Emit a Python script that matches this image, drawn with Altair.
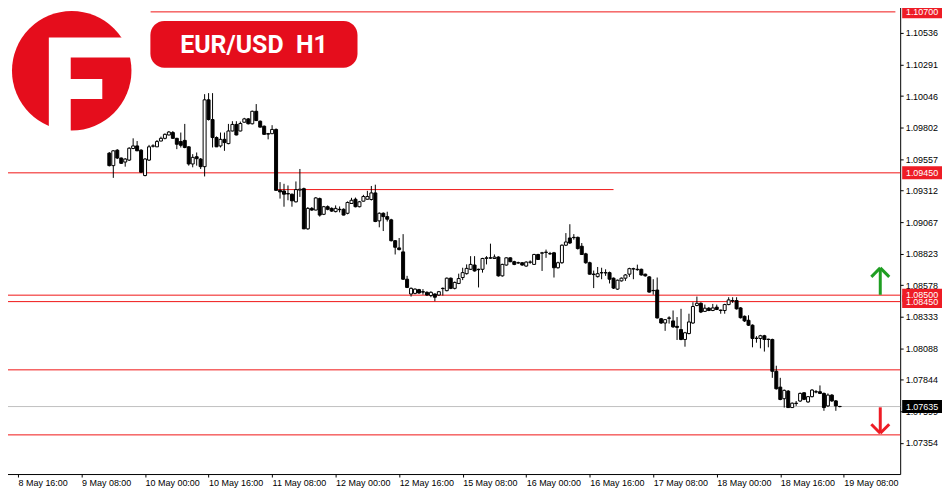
import altair as alt
import pandas as pd

# ---------------- data ----------------
x_labels = ["8 May 16:00", "9 May 08:00", "10 May 00:00", "10 May 16:00", "11 May 08:00",
            "12 May 00:00", "12 May 16:00", "15 May 08:00", "16 May 00:00", "16 May 16:00",
            "17 May 08:00", "18 May 00:00", "18 May 16:00", "19 May 08:00"]
x_label_hours = [0, 16, 32, 48, 64, 80, 96, 112, 128, 144, 160, 176, 192, 208]
y_ticks = [1.10536, 1.10291, 1.10046, 1.09802, 1.09557, 1.09312, 1.09067, 1.08823,
           1.08578, 1.08333, 1.08088, 1.07844, 1.07599, 1.07354]

first_hour = 23  # hours after 8 May 16:00

# prices in points (1e-5)
opens = [
    109603, 109506, 109626, 109565, 109534, 109549, 109639, 109659, 109626, 109429,
    109549, 109657, 109652, 109697, 109718, 109744, 109763, 109718, 109693, 109702,
    109652, 109519, 109575, 109557, 109498, 110017, 109864, 109724, 109659, 109710,
    109677, 109775, 109826, 109775, 109843, 109869, 109831, 109928, 109851, 109812,
    109754, 109754, 109787, 109314, 109309, 109289, 109284, 109225, 109316, 109327,
    109015, 109174, 109161, 109250, 109128, 109187, 109174, 109149, 109167, 109167,
    109136, 109212, 109245, 109187, 109230, 109245, 109243, 109294, 109077, 109136,
    109110, 109085, 108923, 108867, 108836, 108624, 108509, 108514, 108543, 108527,
    108522, 108497, 108509, 108501, 108551, 108535, 108632, 108553, 108591, 108637,
    108667, 108701, 108734, 108701, 108701, 108786, 108790, 108785, 108796, 108650,
    108734, 108790, 108760, 108752, 108752, 108726, 108756, 108739, 108816, 108826,
    108834, 108823, 108829, 108713, 108752, 108888, 108944, 108949, 108949, 108880,
    108821, 108752, 108664, 108644, 108675, 108673, 108675, 108632, 108547, 108611,
    108632, 108663, 108703, 108701, 108701, 108663, 108642, 108535, 108540, 108317,
    108284, 108323, 108300, 108258, 108233, 108156, 108202, 108284, 108420, 108437,
    108374, 108399, 108381, 108407, 108384, 108381, 108427, 108458, 108458, 108401,
    108336, 108305, 108267, 108166, 108164, 108185, 108158, 108156, 107909, 107786,
    107696, 107755, 107627, 107661, 107678, 107742, 107671, 107712, 107750, 107750,
    107737, 107640, 107724, 107679, 107636]
highs = [
    109611, 109626, 109634, 109569, 109565, 109649, 109718, 109697, 109634, 109565,
    109667, 109672, 109705, 109731, 109756, 109775, 109775, 109722, 109763, 109830,
    109657, 109595, 109608, 109565, 110061, 110069, 110069, 109733, 109763, 109763,
    109830, 109851, 109851, 109848, 109877, 109875, 109933, 109984, 109856, 109818,
    109760, 109820, 109795, 109378, 109365, 109352, 109289, 109383, 109480, 109335,
    109184, 109184, 109262, 109258, 109193, 109197, 109182, 109197, 109189, 109174,
    109228, 109256, 109258, 109232, 109279, 109310, 109348, 109358, 109143, 109143,
    109148, 109093, 108928, 108944, 108974, 108650, 108560, 108553, 108549, 108547,
    108530, 108530, 108514, 108533, 108560, 108637, 108637, 108606, 108667, 108713,
    108739, 108803, 108803, 108706, 108790, 108803, 108900, 108816, 108802, 108744,
    108794, 108794, 108767, 108760, 108756, 108763, 108770, 108821, 108821, 108836,
    108854, 108836, 108836, 108760, 108894, 108982, 109051, 108974, 108955, 108905,
    108829, 108760, 108691, 108719, 108713, 108701, 108683, 108637, 108621, 108637,
    108664, 108713, 108713, 108737, 108706, 108667, 108648, 108624, 108637, 108323,
    108315, 108336, 108381, 108330, 108394, 108215, 108356, 108445, 108489, 108445,
    108427, 108407, 108432, 108427, 108388, 108433, 108484, 108484, 108484, 108407,
    108342, 108344, 108273, 108182, 108192, 108192, 108162, 108162, 107952, 107858,
    107767, 107763, 107667, 107678, 107744, 107747, 107717, 107771, 107763, 107799,
    107744, 107737, 107732, 107686, 107640]
lows = [
    109500, 109411, 109557, 109519, 109498, 109542, 109634, 109619, 109450, 109423,
    109542, 109647, 109650, 109695, 109710, 109741, 109714, 109634, 109647, 109641,
    109506, 109493, 109506, 109480, 109422, 109856, 109647, 109650, 109647, 109621,
    109672, 109772, 109741, 109772, 109841, 109826, 109826, 109852, 109802, 109745,
    109710, 109751, 109312, 109250, 109187, 109237, 109187, 109220, 109263, 109013,
    109008, 109155, 109159, 109110, 109122, 109159, 109147, 109143, 109143, 109120,
    109128, 109209, 109182, 109182, 109228, 109243, 109235, 109067, 109027, 108998,
    109072, 108917, 108816, 108848, 108618, 108555, 108489, 108507, 108510, 108504,
    108495, 108484, 108453, 108495, 108497, 108530, 108547, 108545, 108586, 108617,
    108660, 108696, 108683, 108560, 108675, 108739, 108782, 108782, 108644, 108644,
    108729, 108756, 108733, 108744, 108729, 108721, 108744, 108737, 108775, 108688,
    108790, 108813, 108637, 108706, 108744, 108882, 108898, 108931, 108854, 108813,
    108744, 108660, 108555, 108637, 108624, 108650, 108591, 108548, 108541, 108606,
    108611, 108642, 108624, 108690, 108652, 108644, 108520, 108504, 108319, 108277,
    108223, 108279, 108246, 108152, 108150, 108100, 108196, 108277, 108414, 108361,
    108369, 108376, 108376, 108384, 108356, 108356, 108422, 108440, 108388, 108319,
    108292, 108261, 108095, 108131, 108087, 108062, 108095, 107858, 107767, 107684,
    107627, 107625, 107625, 107640, 107671, 107685, 107664, 107706, 107738, 107732,
    107602, 107632, 107671, 107602, 107629]
closes = [
    109506, 109621, 109565, 109524, 109557, 109641, 109659, 109621, 109455, 109557,
    109652, 109659, 109693, 109718, 109749, 109767, 109718, 109672, 109664, 109647,
    109519, 109570, 109560, 109498, 110017, 109864, 109724, 109652, 109710, 109685,
    109775, 109826, 109744, 109833, 109869, 109831, 109928, 109856, 109805, 109749,
    109751, 109787, 109314, 109302, 109284, 109286, 109233, 109320, 109323, 109015,
    109174, 109161, 109255, 109122, 109187, 109167, 109153, 109174, 109164, 109122,
    109220, 109237, 109187, 109225, 109266, 109266, 109294, 109072, 109136, 109110,
    109090, 108923, 108872, 108854, 108624, 108560, 108553, 108547, 108517, 108524,
    108501, 108522, 108484, 108527, 108553, 108632, 108553, 108599, 108629, 108675,
    108708, 108739, 108688, 108698, 108785, 108790, 108788, 108796, 108650, 108739,
    108790, 108760, 108739, 108750, 108734, 108757, 108757, 108816, 108777, 108829,
    108832, 108821, 108713, 108752, 108888, 108913, 108905, 108947, 108862, 108816,
    108752, 108663, 108660, 108667, 108673, 108675, 108624, 108555, 108616, 108632,
    108657, 108706, 108706, 108698, 108657, 108650, 108524, 108537, 108323, 108284,
    108310, 108321, 108254, 108250, 108156, 108208, 108292, 108412, 108437, 108369,
    108399, 108381, 108401, 108389, 108381, 108427, 108463, 108456, 108394, 108325,
    108300, 108267, 108164, 108164, 108185, 108156, 108156, 107909, 107773, 107690,
    107761, 107627, 107661, 107659, 107737, 107691, 107712, 107763, 107748, 107737,
    107627, 107724, 107679, 107640, 107635]

full_levels = [1.09450, 1.08500, 1.08450, 1.07920, 1.07415]
partial_levels = [1.10700, 1.09320]
partial_start = [33.4, 65.0]
partial_end = [221.0, 150.0]
current_price = 1.07635

tag_prices = [1.10700, 1.09450, 1.08450, 1.08500, 1.07635]
tag_colors = ["#ee1c25", "#ee1c25", "#ee1c25", "#ee1c25", "#000000"]

# ---------------- layout constants ----------------
W, H = 903, 475
RED = "#e50d1c"
LINE_RED = "#f01414"
X_DOMAIN = [-3.026, 220.95]
Y_DOMAIN = [1.07111, 1.10784]

n = len(opens)
candles = pd.DataFrame({
    "hour": [first_hour + k for k in range(n)],
    "open": [v / 1e5 for v in opens],
    "high": [v / 1e5 for v in highs],
    "low": [v / 1e5 for v in lows],
    "close": [v / 1e5 for v in closes],
})

label_arr = "[" + ",".join("'" + s + "'" for s in x_labels) + "]"
X_AX = alt.Axis(values=x_label_hours, labelExpr=label_arr + "[round(datum.value/16)]",
                title=None, grid=False, orient="bottom", labelAlign="left", labelBaseline="top",
                labelPadding=2, labelFlush=False, labelOverlap=False, labelFont="Liberation Sans",
                labelFontSize=9, labelColor="#000000", tickColor="#000000", tickSize=3,
                domainColor="#000000", domainWidth=1)
Y_AX = alt.Axis(values=y_ticks, format=".5f", title=None, grid=False, orient="right",
                labelFont="Liberation Sans", labelFontSize=9, labelColor="#000000",
                tickColor="#000000", tickSize=3, labelPadding=2, domainColor="#000000",
                domainWidth=1, labelOverlap=False, labelFlush=False)
XS = alt.Scale(domain=X_DOMAIN, nice=False, zero=False)
YS = alt.Scale(domain=Y_DOMAIN, nice=False, zero=False)

one = pd.DataFrame({"k": [0]})

# logo: red disc with white cut-outs forming the letter
logo_circle = alt.Chart(one).mark_point(shape="circle", size=14400, filled=True,
                                        opacity=1, color=RED, strokeWidth=0).encode(
    x=alt.value(71), y=alt.value(70))
logo_cut = alt.Chart(one).mark_point(
    shape=("M-23,-33.3L69,-33.3L69,-13.3L-1,-13.3L-1,8.3L30.7,8.3L30.7,28.3"
           "L-1,28.3L-1,70L-23,70Z"),
    size=4, filled=True, opacity=1, color="#ffffff", strokeWidth=0).encode(
    x=alt.value(71), y=alt.value(70))

# title box
title_box = alt.Chart(one).mark_rect(color=RED, cornerRadius=14).encode(
    x=alt.value(150), x2=alt.value(358), y=alt.value(20), y2=alt.value(67))
title_text = alt.Chart(one).mark_text(text="EUR/USD\u00a0 H1", font="Roboto", fontSize=25,
                                      fontWeight="bold", color="#ffffff", align="center",
                                      baseline="middle").encode(
    x=alt.value(254), y=alt.value(44))

# level lines
full_df = pd.DataFrame({"price": full_levels})
full_lines = alt.Chart(full_df).mark_rule(color=LINE_RED, strokeWidth=1).encode(
    y=alt.Y("price:Q", scale=YS, axis=Y_AX), x=alt.value(0), x2=alt.value(W))
part_df = pd.DataFrame({"price": partial_levels, "start": partial_start, "end": partial_end})
part_lines = alt.Chart(part_df).mark_rule(color=LINE_RED, strokeWidth=1).encode(
    y=alt.Y("price:Q", scale=YS, axis=Y_AX),
    x=alt.X("start:Q", scale=XS, axis=X_AX), x2="end:Q")
cur_df = pd.DataFrame({"price": [current_price]})
cur_line = alt.Chart(cur_df).mark_rule(color="#c0c0c0", strokeWidth=1).encode(
    y=alt.Y("price:Q", scale=YS, axis=Y_AX), x=alt.value(0), x2=alt.value(W))

# candles
wicks = alt.Chart(candles).mark_rule(color="#000000", strokeWidth=1).encode(
    x=alt.X("hour:Q", scale=XS, axis=X_AX),
    y=alt.Y("low:Q", scale=YS, axis=Y_AX), y2="high:Q")
bodies = alt.Chart(candles).mark_bar(size=3, stroke="#000000", strokeWidth=1).encode(
    x=alt.X("hour:Q", scale=XS, axis=X_AX),
    y=alt.Y("open:Q", scale=YS, axis=Y_AX), y2="close:Q",
    fill=alt.condition("datum.close > datum.open", alt.value("#ffffff"), alt.value("#000000")))

# price tags
tag_df = pd.DataFrame({"price": tag_prices, "col": tag_colors,
                       "label": ["%.5f" % p for p in tag_prices]})
tag_box = alt.Chart(tag_df).mark_point(shape="M-20,-6.5H20V6.5H-20Z", size=4, filled=True,
                                       opacity=1, strokeWidth=0).encode(
    x=alt.value(925), y=alt.Y("price:Q", scale=YS, axis=Y_AX),
    color=alt.Color("col:N", scale=None, legend=None))
tag_text = alt.Chart(tag_df).mark_text(font="Liberation Sans", fontSize=9, color="#ffffff",
                                       align="center", baseline="middle").encode(
    x=alt.value(925), y=alt.Y("price:Q", scale=YS, axis=Y_AX), text="label:N")

# arrows
GREEN = "#1f9e22"
ARROW_RED = "#ee1c25"
def seg(x1, y1, x2, y2, col):
    return alt.Chart(one).mark_rule(color=col, strokeWidth=3).encode(
        x=alt.value(x1), y=alt.value(y1), x2=alt.value(x2), y2=alt.value(y2))

arrows = [
    seg(883, 269, 883, 295, GREEN), seg(883, 268, 874, 277, GREEN), seg(883, 268, 892, 277, GREEN),
    seg(883, 408, 883, 433, ARROW_RED), seg(883, 434, 874, 425, ARROW_RED),
    seg(883, 434, 892, 425, ARROW_RED),
]

chart = alt.layer(
    logo_circle, logo_cut, title_box, title_text,
    full_lines, part_lines, cur_line, wicks, bodies, tag_box, tag_text, *arrows
).properties(width=W, height=H, background="#ffffff",
             padding={"left": -8, "top": -8, "right": 0, "bottom": 0}
).configure_view(strokeWidth=0)

chart.save("out.html", embed_options={"renderer": "svg", "actions": False})
